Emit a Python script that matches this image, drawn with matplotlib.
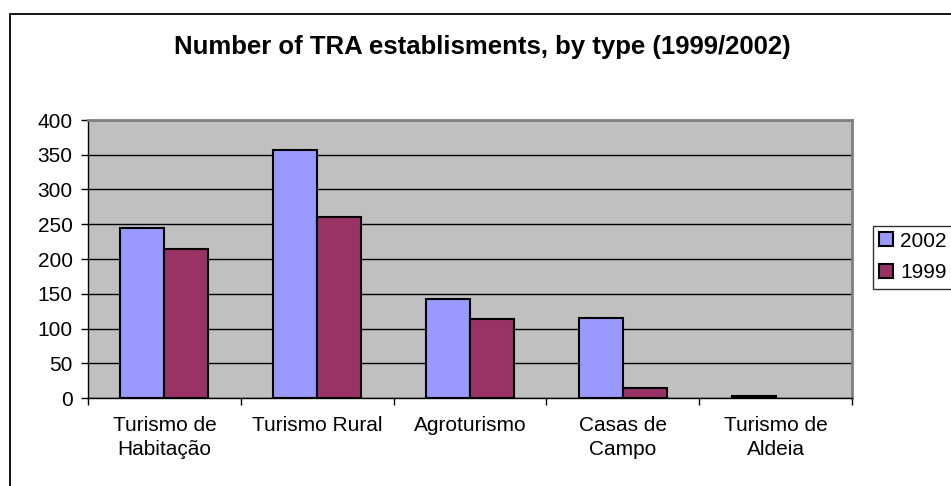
import matplotlib
matplotlib.use("Agg")
import matplotlib.pyplot as plt
import numpy as np
from matplotlib.patches import Rectangle

categories = ["Turismo de\nHabitação", "Turismo Rural", "Agroturismo", "Casas de\nCampo", "Turismo de\nAldeia"]
values_2002 = [244, 357, 143, 115, 3]
values_1999 = [214, 261, 114, 14, 0]
series_labels = ["2002", "1999"]
yticks = [0, 50, 100, 150, 200, 250, 300, 350, 400]

plt.rcParams['font.family'] = ['Liberation Sans', 'DejaVu Sans']

W, H = 951, 486
fig = plt.figure(figsize=(W / 100, H / 100), dpi=100)

# chart outer frame (right/bottom edges cut off by image)
fig.patches.append(Rectangle((9.5 / W, -0.1), 1.2, 1.1 - 14 / H, transform=fig.transFigure,
                             fill=False, edgecolor='black', linewidth=1.3, zorder=0))

left, right, top, bottom = 88, 852, 120, 398
ax = fig.add_axes([left / W, 1 - bottom / H, (right - left) / W, (bottom - top) / H])
ax.set_facecolor('#c0c0c0')

x = np.arange(len(categories))
bw = 0.288
b1 = ax.bar(x - bw / 2, values_2002, bw, color='#9999ff', edgecolor='black', linewidth=1.5, zorder=3,
            label=series_labels[0])
b2 = ax.bar(x + bw / 2, values_1999, bw, color='#993366', edgecolor='black', linewidth=1.5, zorder=3,
            label=series_labels[1])
for bars in (b1, b2):
    for p in bars:
        if p.get_height() == 0:
            p.set_visible(False)

ax.set_xlim(-0.5, len(categories) - 0.5)
ax.set_ylim(0, 400)
ax.set_yticks(yticks)
ax.set_yticklabels([str(v) for v in yticks], fontsize=15)
ax.yaxis.grid(True, color='black', linewidth=1.0, zorder=1)
ax.set_axisbelow(True)

ax.set_xticks(np.arange(len(categories) + 1) - 0.5)
ax.set_xticklabels([])
ax.set_xticks(x, minor=True)
ax.set_xticklabels(categories, minor=True, fontsize=15, linespacing=1.3)
ax.tick_params(axis='x', which='minor', length=0, pad=13)
ax.tick_params(axis='x', which='major', direction='out', length=5, width=1, color='black')
ax.tick_params(axis='y', direction='out', length=5, width=1, color='black', pad=6)

for s in ['top', 'right']:
    ax.spines[s].set_color('#808080')
    ax.spines[s].set_linewidth(2)
ax.spines['left'].set_color('black')
ax.spines['bottom'].set_color('black')
ax.spines['left'].set_linewidth(1.0)
ax.spines['bottom'].set_linewidth(1.0)

fig.text(482 / W, 1 - 47 / H, "Number of TRA establisments, by type (1999/2002)",
         ha='center', va='center', fontsize=18.5, fontweight='bold')

leg = fig.legend(loc='upper left', bbox_to_anchor=(873 / W, 1 - 225.5 / H), frameon=True,
                 fontsize=15, handlelength=0.65, handleheight=0.65, handletextpad=0.35,
                 borderpad=0.3, labelspacing=0.6, fancybox=False, borderaxespad=0)
leg.get_frame().set_edgecolor('black')
leg.get_frame().set_linewidth(1.0)
for h in leg.legend_handles:
    h.set_linewidth(1.5)

fig.savefig("out.png", dpi=100)
